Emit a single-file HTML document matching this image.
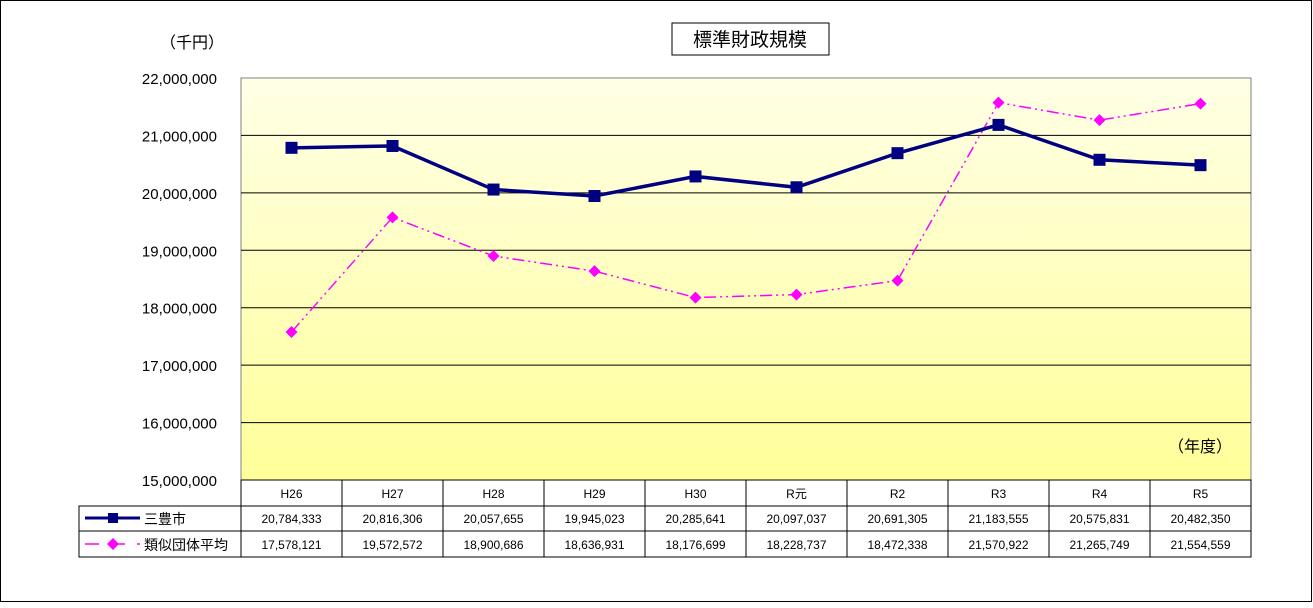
<!DOCTYPE html>
<html><head><meta charset="utf-8"><style>
body{margin:0;background:#fff;}
svg text{font-family:"Liberation Sans","Noto Sans CJK JP",sans-serif;}
</style></head><body>
<svg width="1313" height="603" xmlns="http://www.w3.org/2000/svg">
<defs><linearGradient id="bg" x1="0" y1="0" x2="0" y2="1"><stop offset="0" stop-color="#ffffe6"/><stop offset="1" stop-color="#ffff99"/></linearGradient></defs>
<rect x="0.5" y="0.5" width="1311" height="601" fill="#fff" stroke="#000"/>
<rect x="241" y="78" width="1010" height="402" fill="url(#bg)" stroke="#808080"/>
<g id="grid"></g>
<g id="ylabels"></g>
<text x="160" y="48" font-size="16">（千円）</text>
<rect x="672" y="23" width="157" height="32" fill="#fff" stroke="#000"/>
<text x="750" y="46" font-size="19" text-anchor="middle">標準財政規模</text>
<text x="1168" y="452" font-size="16">（年度）</text>
<g id="table"></g>
<g id="series"></g>
</svg>
<script>
const categories=["H26","H27","H28","H29","H30","R元","R2","R3","R4","R5"];
const cityValues=[20784333,20816306,20057655,19945023,20285641,20097037,20691305,21183555,20575831,20482350];
const avgValues=[17578121,19572572,18900686,18636931,18176699,18228737,18472338,21570922,21265749,21554559];
const yTicks=[15000000,16000000,17000000,18000000,19000000,20000000,21000000,22000000];
const NS="http://www.w3.org/2000/svg";
const X0=241,W=1010,Y0=480,Y1=78,ymin=15000000,ymax=22000000;
const colW=W/categories.length;
const x=i=>X0+colW*(i+0.5);
const y=v=>Y0-(v-ymin)/(ymax-ymin)*(Y0-Y1);
function mk(tag,attrs,parent,txt){const e=document.createElementNS(NS,tag);for(const k in attrs)e.setAttribute(k,attrs[k]);if(txt!==undefined)e.textContent=txt;document.getElementById(parent).appendChild(e);return e;}
const fmt=v=>v.toLocaleString('en-US');
yTicks.forEach(t=>{
 if(t>ymin&&t<ymax){const l=mk('line',{x1:X0,x2:X0+W,y1:y(t),y2:y(t),stroke:'#000','stroke-width':1},'grid');
 }
 const tx=mk('text',{x:217,y:y(t)+6,'font-size':15,'text-anchor':'end'},'ylabels',fmt(t));
 
});
// table
const rows=[480,506,531,557];
const tb=mk('rect',{x:79,y:506,width:1172,height:51,fill:'#fff',stroke:'#000'},'table');

mk('rect',{x:241,y:480,width:1010,height:26,fill:'#fff',stroke:'#000'},'table');
mk('line',{x1:79,x2:1251,y1:531,y2:531,stroke:'#000'},'table');
for(let i=0;i<=categories.length;i++){mk('line',{x1:X0+colW*i,x2:X0+colW*i,y1:480,y2:557,stroke:'#000'},'table');}
categories.forEach((c,i)=>{
 const h=mk('text',{x:x(i),y:498,'font-size':12,'text-anchor':'middle'},'table',c);
 
 const a=mk('text',{x:x(i),y:523,'font-size':12,'text-anchor':'middle'},'table',fmt(cityValues[i]));
 
 const b=mk('text',{x:x(i),y:549,'font-size':12,'text-anchor':'middle'},'table',fmt(avgValues[i]));
 
});
// legend keys
mk('line',{x1:85,x2:140,y1:518,y2:518,stroke:'#000080','stroke-width':3},'table');
mk('rect',{x:108,y:513,width:10,height:10,fill:'#000080'},'table');
const l1=mk('text',{x:144,y:524,'font-size':14},'table','三豊市');

mk('line',{x1:85,x2:140,y1:544,y2:544,stroke:'#ff00ff','stroke-width':1.5,'stroke-dasharray':'14,12'},'table');
mk('polygon',{points:'113,538 119,544 113,550 107,544',fill:'#ff00ff'},'table');
const l2=mk('text',{x:144,y:550,'font-size':14},'table','類似団体平均');

// series
const avgLine=mk('polyline',{points:avgValues.map((v,i)=>x(i)+','+y(v)).join(' '),fill:'none',stroke:'#ff00ff','stroke-width':1.5,'stroke-dasharray':'12,4,2,4,2,4'},'series');

avgValues.forEach((v,i)=>{const p=mk('polygon',{points:`${x(i)},${y(v)-6} ${x(i)+6},${y(v)} ${x(i)},${y(v)+6} ${x(i)-6},${y(v)}`,fill:'#ff00ff'},'series');
 });
const cityLine=mk('polyline',{points:cityValues.map((v,i)=>x(i)+','+y(v)).join(' '),fill:'none',stroke:'#000080','stroke-width':3.5},'series');

cityValues.forEach((v,i)=>{const r=mk('rect',{x:x(i)-6,y:y(v)-6,width:12,height:12,fill:'#000080'},'series');
 });
</script>
</body></html>
